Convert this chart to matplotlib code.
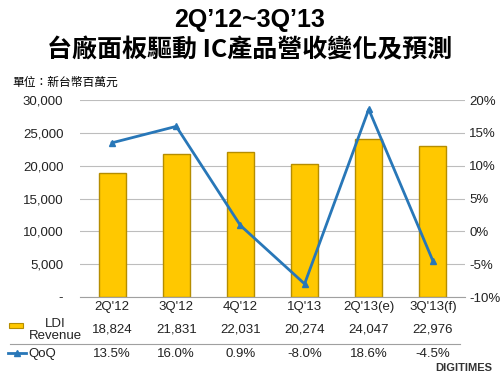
import matplotlib
matplotlib.use("Agg")
import matplotlib.pyplot as plt
import matplotlib.transforms as mtransforms
from matplotlib.lines import Line2D
from matplotlib.patches import Rectangle

plt.rcParams['font.family'] = ['Liberation Sans', 'Noto Sans CJK TC', 'DejaVu Sans']

# data
quarters = ["2Q'12", "3Q'12", "4Q'12", "1Q'13", "2Q'13(e)", "3Q'13(f)"]
revenue = [18824, 21831, 22031, 20274, 24047, 22976]
qoq = [13.5, 16.0, 0.9, -8.0, 18.6, -4.5]
left_ticks = [0, 5000, 10000, 15000, 20000, 25000, 30000]
left_labels = ["-", "5,000", "10,000", "15,000", "20,000", "25,000", "30,000"]
right_ticks = [-10, -5, 0, 5, 10, 15, 20]

bar_color = "#FFC800"
bar_edge = "#B58D00"
line_color = "#2877B8"

fig = plt.figure(figsize=(5, 3.75), dpi=100)
ax = fig.add_axes([0.16, 0.208, 0.77, 0.525])
x = list(range(len(quarters)))

ax.bar(x, revenue, width=0.42, color=bar_color, edgecolor=bar_edge, linewidth=1.0, zorder=2)
ax.set_xlim(-0.5, len(quarters) - 0.5)
ax.set_ylim(0, 30000)
ax.set_yticks(left_ticks)
ax.set_yticklabels(left_labels)
ax.grid(axis='y', color='#BDBDBD', linewidth=0.8, zorder=0)
ax.set_xticks([])
for s in ['top', 'right', 'left']:
    ax.spines[s].set_visible(False)
ax.spines['bottom'].set_color('#A0A0A0')
ax.tick_params(axis='y', length=0, pad=12, labelsize=9.5, labelcolor='#222222')

ax2 = ax.twinx()
ax2.plot(x, qoq, color=line_color, linewidth=2, marker='^', markersize=5, zorder=3)
ax2.set_ylim(-10, 20)
ax2.set_yticks(right_ticks)
ax2.set_yticklabels([f"{t}%" for t in right_ticks])
ax2.tick_params(axis='y', length=0, pad=3, labelsize=9.5, labelcolor='#222222')
for s in ax2.spines.values():
    s.set_visible(False)

# data table below the chart
tr = mtransforms.blended_transform_factory(ax.transData, fig.transFigure)
for i, q in enumerate(quarters):
    ax.text(i, 1 - 307 / 375, q, transform=tr, ha='center', va='center', fontsize=9.5, color='#222222')
    ax.text(i, 1 - 330 / 375, f"{revenue[i]:,}", transform=tr, ha='center', va='center', fontsize=9.5, color='#222222')
    ax.text(i, 1 - 354 / 375, f"{qoq[i]:.1f}%", transform=tr, ha='center', va='center', fontsize=9.5, color='#222222')

fig.add_artist(Line2D([0.02, 0.92], [1 - 344 / 375, 1 - 344 / 375], color='#A0A0A0', linewidth=0.8))
fig.add_artist(Rectangle((0.018, 1 - 328 / 375), 0.028, 0.013, facecolor=bar_color, edgecolor=bar_edge, linewidth=0.8))
fig.text(0.11, 1 - 330 / 375, "LDI\nRevenue", ha='center', va='center', fontsize=9.5, color='#222222', linespacing=1.0)
fig.add_artist(Line2D([0.016, 0.052], [1 - 353 / 375, 1 - 353 / 375], color=line_color, linewidth=2))
fig.add_artist(Line2D([0.034], [1 - 353 / 375], color=line_color, marker='^', markersize=5, linestyle='none'))
fig.text(0.056, 1 - 354 / 375, "QoQ", ha='left', va='center', fontsize=9.5, color='#222222')

# titles
fig.text(0.5, 1 - 20 / 375, "2Q\u201912~3Q\u201913", ha='center', va='center', fontsize=18, fontweight='bold')
fig.text(0.5, 1 - 50 / 375, "台廠面板驅動 IC產品營收變化及預測", ha='center', va='center', fontsize=18,
         fontweight='bold', family=['Noto Sans CJK TC', 'DejaVu Sans'])
fig.text(0.024, 1 - 82 / 375, "單位：新台幣百萬元", ha='left', va='center', fontsize=8.5,
         family=['Noto Sans CJK TC', 'DejaVu Sans'])
fig.text(0.985, 1 - 368 / 375, "DIGITIMES", ha='right', va='center', fontsize=8, fontweight='bold', color='#333333')

fig.savefig("out.png", dpi=100)
